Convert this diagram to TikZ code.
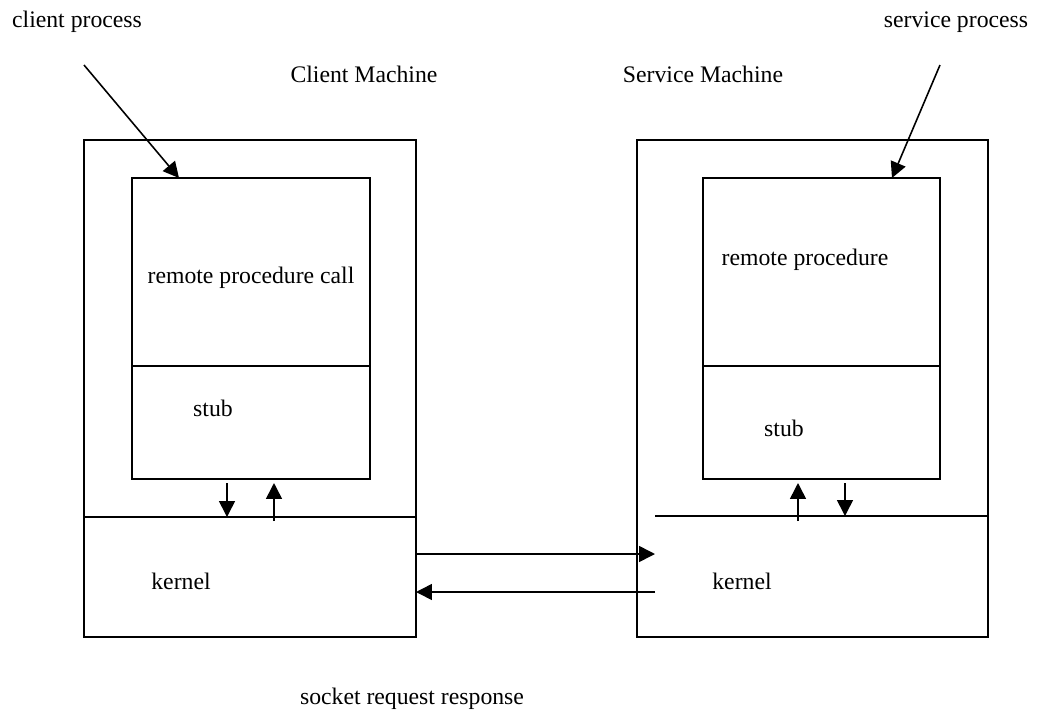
\documentclass[tikz,border=0pt]{standalone}
\usepackage{fontspec}
\setmainfont{Liberation Serif}
\usetikzlibrary{arrows.meta}

\begin{document}
\begin{tikzpicture}[x=0.02cm,y=-0.02cm,
  line width=0.9pt,
  lbl/.style={anchor=base, inner sep=0pt, font=\fontsize{13.5}{16}\selectfont},
  arr/.style={-{Triangle[length=9pt,width=9pt]}}]
\useasboundingbox (0,0) rectangle (1039,711);
%\draw[step=50,gray,very thin] (0,0) grid (1039,711);

% client machine
\draw (84,140) rectangle (416,637);
\draw (132,178) rectangle (370,479);
\draw (132,366) -- (370,366);
\draw (84,517) -- (416,517);

% service machine
\draw (637,140) rectangle (988,637);
\draw (703,178) rectangle (940,479);
\draw (703,366) -- (940,366);
\draw (655,516) -- (988,516);

% points for the connectors
\coordinate (cpStart) at (84,65);
\coordinate (cpEnd) at (179,178);
\coordinate (spStart) at (940,65);
\coordinate (spEnd) at (892,178);
\coordinate (cDownTop) at (227,483);
\coordinate (cDownBot) at (227,517);
\coordinate (cUpBot) at (274,521);
\coordinate (cUpTop) at (274,483);
\coordinate (sUpBot) at (798,521);
\coordinate (sUpTop) at (798,483);
\coordinate (sDownTop) at (845,483);
\coordinate (sDownBot) at (845,516);
\coordinate (reqFrom) at (416,554);
\coordinate (reqTo) at (655,554);
\coordinate (resFrom) at (655,592);
\coordinate (resTo) at (416,592);

\draw[arr] (cpStart) -- (cpEnd);
\draw[arr] (spStart) -- (spEnd);
\draw[arr] (cDownTop) -- (cDownBot);
\draw[arr] (cUpBot) -- (cUpTop);
\draw[arr] (sUpBot) -- (sUpTop);
\draw[arr] (sDownTop) -- (sDownBot);
\draw[arr] (reqFrom) -- (reqTo);
\draw[arr] (resFrom) -- (resTo);

% labels
\node[lbl] (clientProc) at (77,27) {client process};
\node[lbl] (serviceProc) at (956,27) {service process};
\node[lbl] (clientMach) at (364,82) {Client Machine};
\node[lbl] (serviceMach) at (703,82) {Service Machine};
\node[lbl] (rpcCall) at (251,283) {remote procedure call};
\node[lbl] (rpcProc) at (805,265) {remote procedure};
\node[lbl] (clientStub) at (213,416) {stub};
\node[lbl] (serviceStub) at (784,436) {stub};
\node[lbl] (clientKernel) at (181,589) {kernel};
\node[lbl] (serviceKernel) at (742,589) {kernel};
\node[lbl] (socketLbl) at (412,704) {socket request response};

\end{tikzpicture}
\end{document}
